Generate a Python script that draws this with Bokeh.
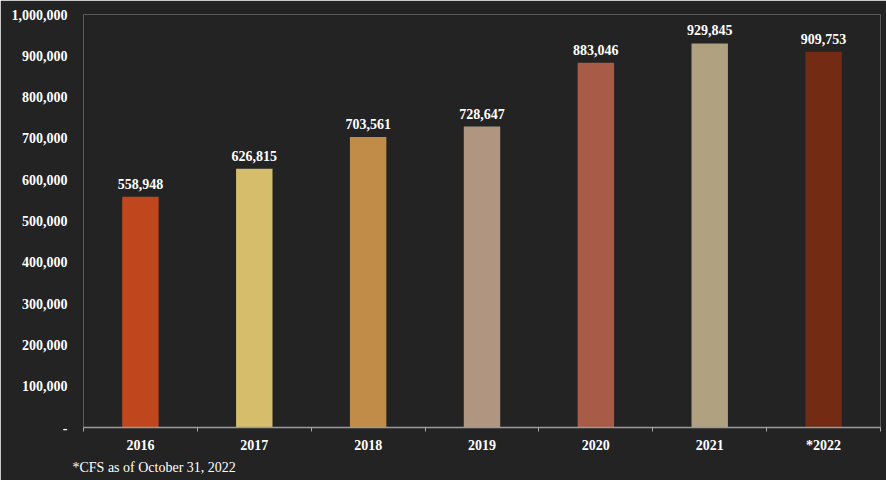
from bokeh.plotting import figure
from bokeh.models import ColumnDataSource, FixedTicker, NumeralTickFormatter, Range1d, Title
from bokeh.embed import file_html
from bokeh.resources import INLINE
from bokeh.core.properties import value

years = ["2016", "2017", "2018", "2019", "2020", "2021", "*2022"]
calls = [558948, 626815, 703561, 728647, 883046, 929845, 909753]
colors = ["#C0461E", "#D5BD6C", "#C08C48", "#B09680", "#A85C47", "#B0A181", "#732B14"]
y_ticks = [0, 100000, 200000, 300000, 400000, 500000, 600000, 700000, 800000, 900000, 1000000]
footnote = "*CFS as of October 31, 2022"

n = len(years)
centers = [i + 0.5 for i in range(n)]
src = ColumnDataSource(dict(
    x=centers, top=calls, color=colors,
    lbl=[f"{v:,}" for v in calls],
))

BG = "#232323"
FONT = "Liberation Serif"

p = figure(width=886, height=480, output_backend="svg", toolbar_location=None,
           x_range=Range1d(0, n), y_range=Range1d(0, 1000000),
           min_border_left=83, min_border_right=6, min_border_top=14, min_border_bottom=53,
           background_fill_color=BG, border_fill_color=BG, outline_line_color=None)

p.vbar(x="x", top="top", width=0.32, color="color", source=src, line_color=None)
p.text(x="x", y="top", text="lbl", source=src, text_align="center", text_baseline="bottom",
       y_offset=-8, text_color="white", text_font=value(FONT), text_font_style="bold",
       text_font_size="14px")

p.grid.visible = False

xa = p.xaxis[0]
xa.ticker = FixedTicker(ticks=centers, minor_ticks=list(range(n + 1)))
xa.major_label_overrides = {c: y for c, y in zip(centers, years)}
xa.major_tick_line_color = None
xa.minor_tick_line_color = "#a8a8a8"
xa.minor_tick_out = 4
xa.minor_tick_in = 0
xa.minor_tick_line_width = 1
xa.axis_line_color = "#9a9a9a"
xa.axis_line_width = 1.5
xa.major_label_text_color = "white"
xa.major_label_text_font = FONT
xa.major_label_text_font_style = "bold"
xa.major_label_text_font_size = "14px"
xa.major_label_standoff = 4

ya = p.yaxis[0]
ya.ticker = FixedTicker(ticks=y_ticks)
ya.formatter = NumeralTickFormatter(format="0,0")
ya.major_label_overrides = {0: "-"}
ya.axis_line_color = None
ya.major_tick_line_color = None
ya.minor_tick_line_color = None
ya.major_label_text_color = "white"
ya.major_label_text_font = FONT
ya.major_label_text_font_style = "bold"
ya.major_label_text_font_size = "14px"
ya.major_label_standoff = 10

p.add_layout(Title(text=footnote, align="left", offset=-11, text_color="white",
                   text_font=FONT, text_font_style="normal", text_font_size="14px",
                   standoff=4), "below")

open("out.html", "w").write(file_html(p, INLINE))
